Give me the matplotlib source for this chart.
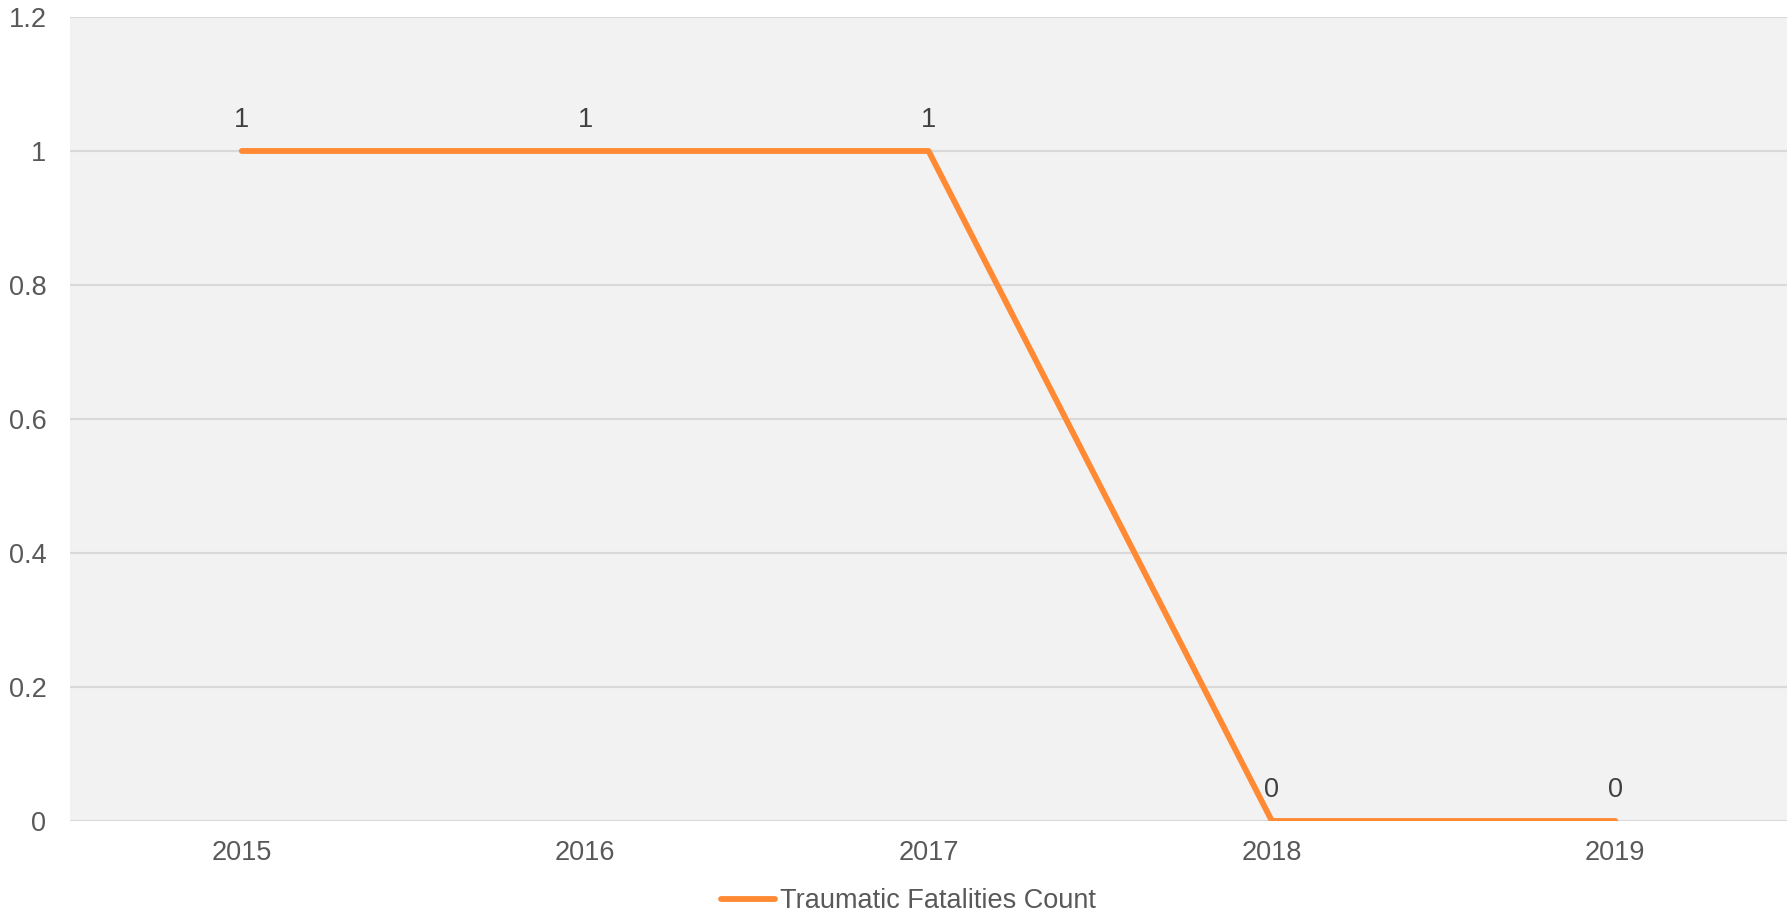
import matplotlib
matplotlib.use("Agg")
import matplotlib.pyplot as plt

# datos
anios = ["2015", "2016", "2017", "2018", "2019"]
fatalidades = [1, 1, 1, 0, 0]
y_ticks = [0, 0.2, 0.4, 0.6, 0.8, 1, 1.2]
y_tick_labels = ["0", "0.2", "0.4", "0.6", "0.8", "1", "1.2"]

plt.rcParams['font.family'] = ['Liberation Sans', 'DejaVu Sans']
gris = '#595959'
naranja = '#FF8A33'
fs = 19.5

fig = plt.figure(figsize=(17.92, 9.17), dpi=100)
ax = fig.add_axes([0.0391, 0.1047, 0.9581, 0.8768])
ax.set_facecolor('#F2F2F2')

x = list(range(len(anios)))
ax.plot(x, fatalidades, color=naranja, linewidth=4.2, solid_capstyle='round',
        solid_joinstyle='round', label='Traumatic Fatalities Count', zorder=3)

# etiquetas de datos
for xi, v in zip(x, fatalidades):
    ax.annotate(str(v), (xi, v), xytext=(0, 22), textcoords='offset points',
                ha='center', va='center', fontsize=fs, color='#404040')

ax.set_xlim(-0.5, len(anios) - 0.5)
ax.set_ylim(0, 1.2)
ax.set_xticks(x)
ax.set_xticklabels(anios)
ax.set_yticks(y_ticks)
ax.set_yticklabels(y_tick_labels)
ax.tick_params(axis='both', length=0, labelsize=fs, labelcolor=gris)
ax.tick_params(axis='x', pad=14)
ax.tick_params(axis='y', pad=17)
ax.grid(axis='y', color='#D9D9D9', linewidth=1.5, zorder=1)
ax.set_axisbelow(True)
for s in ax.spines.values():
    s.set_visible(False)
ax.axhline(0, color='#D9D9D9', linewidth=2, zorder=2)

leg = fig.legend(loc='center', bbox_to_anchor=(0.507, 0.017), frameon=False,
                 fontsize=fs, handlelength=2.0, handletextpad=0.2)
for t in leg.get_texts():
    t.set_color(gris)

fig.savefig('out.png', dpi=100)
